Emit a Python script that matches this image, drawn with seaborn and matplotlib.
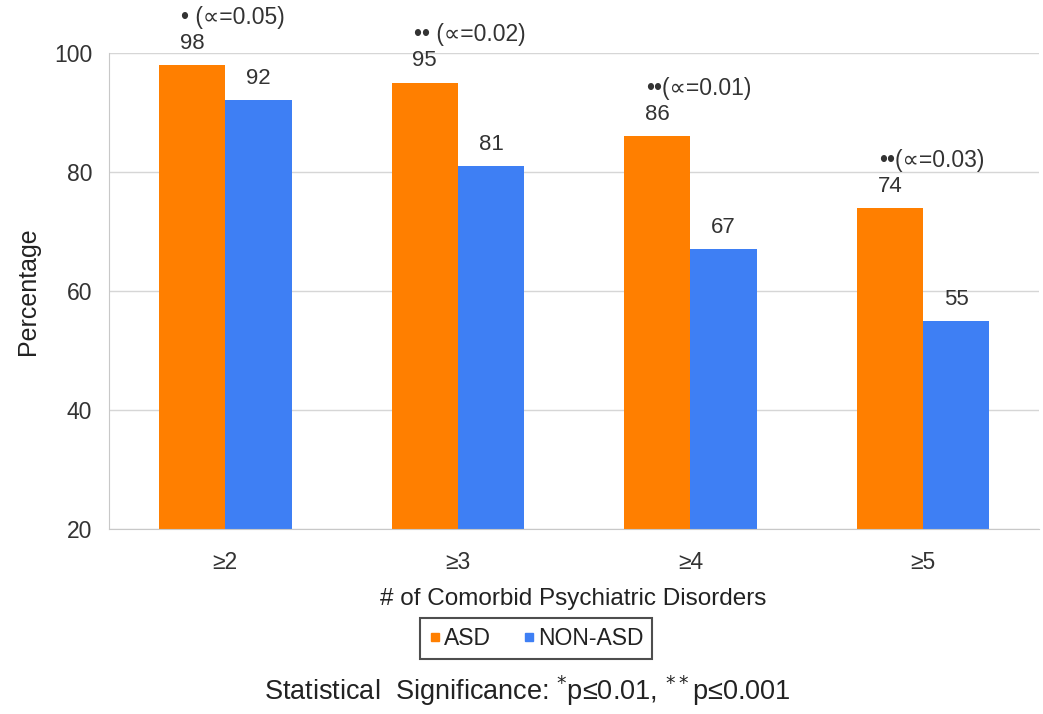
import matplotlib
matplotlib.use('Agg')
import matplotlib.pyplot as plt
import pandas as pd
import seaborn as sns
from matplotlib.lines import Line2D
from matplotlib.ticker import FixedLocator

categories = ['≥2', '≥3', '≥4', '≥5']
asd = [98, 95, 86, 74]
non_asd = [92, 81, 67, 55]
groups = ['ASD', 'NON-ASD']
sig_labels = ['• (∝=0.05)', '•• (∝=0.02)', '••(∝=0.01)', '••(∝=0.03)']
y_ticks = [20, 40, 60, 80, 100]

colors = {'ASD': '#FF7F00', 'NON-ASD': '#3E7FF4'}
text_col = '#333333'

df = pd.DataFrame({
    'category': categories * 2,
    'value': asd + non_asd,
    'group': [groups[0]] * len(asd) + [groups[1]] * len(non_asd),
})

sns.set_style('white')
plt.rcParams['font.family'] = ['Liberation Sans', 'DejaVu Sans']

fig = plt.figure(figsize=(10.43, 7.14), dpi=100)
ax = fig.add_axes([0.1045, 0.259, 0.892, 0.667])

sns.barplot(data=df, x='category', y='value', hue='group', order=categories,
            hue_order=groups, palette=colors, width=0.57, gap=0,
            saturation=1, legend=False, linewidth=0, ax=ax)

ax.set_ylim(20, 100)
ax.set_xlim(-0.5, len(categories) - 0.5)
ax.set_yticks(y_ticks)
ax.yaxis.grid(True, color='#d6d6d6', lw=1)
ax.set_axisbelow(True)
for side in ['top', 'right']:
    ax.spines[side].set_visible(False)
ax.spines['left'].set_color('#c8c8c8')
ax.spines['bottom'].set_color('#c8c8c8')
ax.tick_params(axis='y', length=5, color='#c8c8c8', labelsize=16.5,
               labelcolor=text_col, direction='out', pad=7)
ax.tick_params(axis='x', length=0, labelsize=16.5, labelcolor=text_col, pad=16)
ax.xaxis.set_minor_locator(FixedLocator([i + 0.5 for i in range(len(categories))]))
ax.tick_params(axis='x', which='minor', length=4, color='#c8c8c8')
ax.set_xlabel('')
ax.set_ylabel('Percentage', fontsize=18, color='#222222', labelpad=10)

for cont in ax.containers:
    ax.bar_label(cont, padding=8, fontsize=16, color=text_col)

for bar, lab in zip(ax.containers[0], sig_labels):
    ax.annotate(lab, (bar.get_x(), bar.get_height()), xytext=(16, 26),
                textcoords='offset points', ha='left', va='bottom',
                fontsize=16.5, color=text_col, annotation_clip=False)

fig.text(0.55, 0.161, '# of Comorbid Psychiatric Disorders', ha='center',
         va='center', fontsize=17.5, color='#222222')

handles = [Line2D([], [], marker='s', ls='', markersize=6,
                  markerfacecolor=colors[g], markeredgecolor=colors[g])
           for g in groups]
leg = fig.legend(handles, groups, loc='center', bbox_to_anchor=(0.514, 0.106),
                 ncol=2, frameon=True, fontsize=16.5, handlelength=0.5,
                 handletextpad=0.15, columnspacing=1.4, borderpad=0.4,
                 fancybox=False)
leg.get_frame().set_edgecolor('#222222')
leg.get_frame().set_linewidth(1.5)
for t in leg.get_texts():
    t.set_color('#222222')

fig.text(0.506, 0.032,
         'Statistical  Significance: $^{*}$p≤0.01, $^{**}$p≤0.001',
         ha='center', va='center', fontsize=19.5, color='#222222')

fig.savefig('out.png', dpi=100)
